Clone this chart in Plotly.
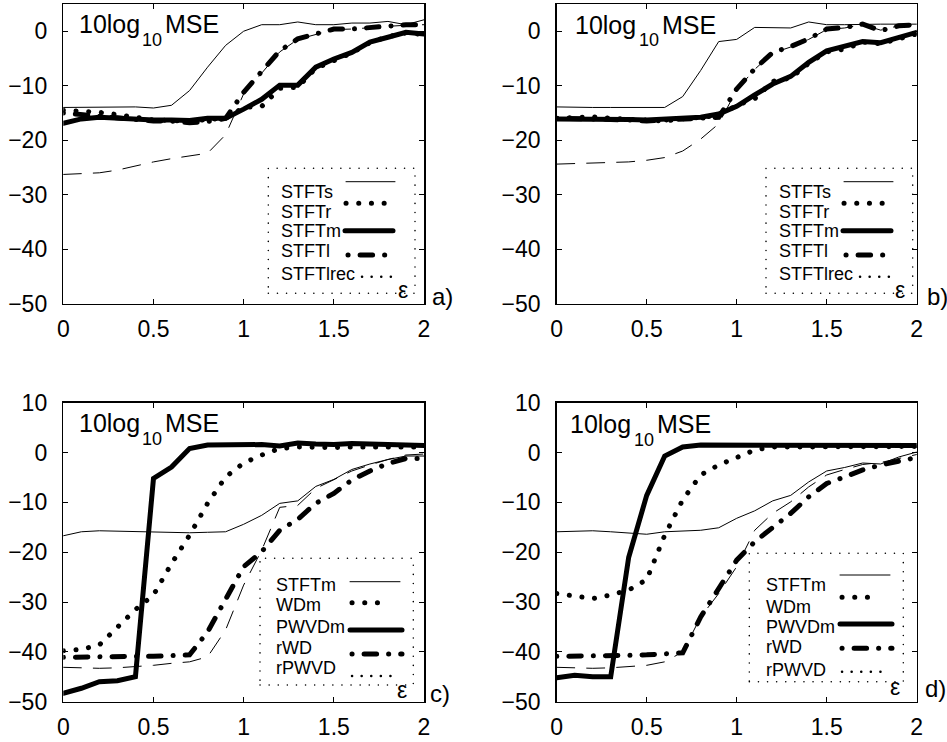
import plotly.graph_objects as go

# ---------------- data ----------------
eps = [0.0, 0.1, 0.2, 0.3, 0.4, 0.5, 0.6, 0.7, 0.8, 0.9, 1.0,
       1.1, 1.2, 1.3, 1.4, 1.5, 1.6, 1.7, 1.8, 1.9, 2.0]

# panel a)
a_STFTs = [-14.0, -14.0, -14.0, -14.0, -13.9, -14.1, -13.6, -10.9, -6.6, -2.6, 0.0,
           1.2, 1.2, 1.7, 1.2, 1.2, 1.5, 1.5, 1.8, 1.2, 2.1]
a_STFTr = [-14.5, -14.6, -14.9, -15.3, -15.7, -16.3, -16.4, -16.6, -16.2, -16.0, -14.0,
           -13.8, -10.5, -10.3, -6.8, -5.3, -4.0, -2.1, -1.0, -0.3, -0.6]
a_STFTm = [-16.9, -16.1, -15.8, -16.0, -16.1, -16.3, -16.3, -16.4, -16.0, -16.0, -14.3,
           -12.5, -9.9, -9.9, -6.6, -5.1, -3.9, -2.0, -1.1, -0.2, -0.5]
a_STFTl = [-15.0, -15.3, -15.8, -16.0, -16.2, -16.5, -16.5, -16.8, -16.6, -16.0, -11.2,
           -7.5, -3.6, -1.4, -0.5, 0.4, 0.4, 0.7, 0.9, 1.2, 1.2]
a_STFTlrec = [-26.3, -26.2, -26.0, -25.5, -24.7, -24.0, -23.4, -22.9, -22.4, -19.0, -11.5,
              -7.7, -3.8, -1.5, -0.6, 0.3, 0.4, 0.7, 0.9, 1.1, 1.2]

# panel b)
b_STFTs = [-13.9, -14.0, -14.0, -14.0, -14.0, -13.9, -14.0, -12.0, -7.2, -1.9, -1.5,
           0.7, 0.7, 0.6, 1.7, 1.2, 1.2, 1.3, 1.3, 1.3, 1.3]
b_STFTr = [-16.0, -15.9, -15.7, -16.0, -16.1, -16.4, -16.5, -16.1, -15.9, -15.5, -13.6,
           -12.4, -9.2, -8.6, -5.9, -3.8, -3.3, -2.0, -2.3, -1.4, -0.5]
b_STFTm = [-16.1, -16.1, -16.0, -16.1, -16.2, -16.3, -16.2, -16.0, -15.8, -15.2, -13.8,
           -11.7, -9.7, -8.3, -5.7, -3.6, -2.8, -1.9, -2.1, -1.1, -0.2]
b_STFTl = [-16.0, -16.0, -16.0, -16.2, -16.3, -16.5, -16.3, -16.2, -16.0, -15.8, -10.6,
           -6.9, -3.9, -2.8, -1.4, 0.4, 0.7, 1.3, 0.1, 1.0, 1.2]
b_STFTlrec = [-24.4, -24.3, -24.2, -24.1, -24.0, -23.7, -23.2, -22.0, -19.8, -17.0, -10.8,
              -7.0, -4.0, -2.9, -1.5, 0.3, 0.6, 1.2, 0.2, 1.0, 1.2]

# panel c)
c_STFTm = [-16.7, -15.9, -15.7, -15.8, -15.9, -15.9, -16.0, -16.1, -16.0, -15.9, -14.4,
           -12.6, -10.2, -9.7, -6.8, -5.4, -3.4, -2.3, -1.4, -0.7, -0.7]
c_WDm = [-39.8, -39.5, -38.6, -35.0, -31.5, -28.6, -22.3, -16.6, -10.2, -4.9, -2.1,
         -0.5, 0.8, 1.1, 1.0, 1.0, 1.1, 1.1, 1.1, 1.0, 1.1]
c_PWVDm = [-48.3, -47.3, -46.0, -45.8, -45.0, -5.2, -2.9, 0.8, 1.5, 1.5, 1.6,
           1.6, 1.3, 1.9, 1.7, 1.6, 1.8, 1.7, 1.5, 1.6, 1.4]
c_rWD = [-41.1, -41.0, -41.0, -41.0, -40.9, -40.9, -40.8, -40.6, -36.0, -29.6, -22.9,
         -19.9, -15.6, -13.4, -10.2, -8.2, -5.5, -3.7, -2.2, -1.2, -1.2]
c_rPWVD = [-43.1, -43.2, -43.3, -43.2, -43.0, -42.7, -42.3, -42.0, -41.0, -35.6, -26.6,
           -19.6, -11.0, -10.6, -7.2, -5.5, -3.7, -2.5, -1.4, -0.5, -0.3]

# panel d)
d_STFTm = [-15.9, -15.8, -15.7, -15.9, -16.2, -16.4, -15.9, -15.8, -15.6, -15.1, -13.2,
           -11.7, -9.7, -8.6, -5.9, -3.7, -3.0, -2.1, -2.3, -0.9, 0.1]
d_WDm = [-28.3, -28.8, -29.3, -28.6, -27.6, -25.5, -16.6, -9.5, -4.5, -2.5, -1.0,
         0.5, 1.1, 1.1, 1.1, 1.1, 1.1, 1.1, 1.1, 1.2, 1.2]
d_PWVDm = [-45.2, -44.7, -45.0, -45.0, -21.0, -8.6, -0.7, 1.1, 1.5, 1.5, 1.5,
           1.4, 1.5, 1.6, 1.6, 1.5, 1.5, 1.6, 1.5, 1.6, 1.4]
d_rWD = [-40.9, -40.9, -40.8, -40.8, -40.7, -40.6, -40.5, -40.2, -33.0, -27.5, -21.6,
         -17.9, -15.2, -12.2, -8.9, -6.2, -4.9, -3.5, -2.5, -1.7, -1.0]
d_rPWVD = [-43.1, -43.2, -43.3, -43.2, -43.0, -42.7, -42.0, -40.0, -33.0, -28.3, -22.9,
           -15.6, -12.2, -9.9, -6.9, -4.5, -3.4, -2.4, -2.0, -1.2, -0.4]

names_top = ["STFTs", "STFTr", "STFTm", "STFTl", "STFTlrec"]
names_bot = ["STFTm", "WDm", "PWVDm", "rWD", "rPWVD"]
x_ticks = [0, 0.5, 1, 1.5, 2]
x_ticktext = ["0", "0.5", "1", "1.5", "2"]
y_ticks = [-50, -40, -30, -20, -10, 0, 10]

# ---------------- styling ----------------
W, H = 947, 742
FONT = "Liberation Sans"
styles = [
    dict(color="black", width=1),                                   # thin solid
    dict(color="black", width=5, dash="0.1px,12.6px"),              # round dots
    dict(color="black", width=5),                                   # thick solid
    dict(color="black", width=5, dash="0.1px,12px,12.5px,12px"),    # thick dash-dot
    dict(color="black", width=1, dash="18px,12px"),                 # thin long dash
]
legend_styles = [
    dict(color="black", width=1),
    dict(color="black", width=5, dash="0.1px,12.6px"),
    dict(color="black", width=5),
    dict(color="black", width=5, dash="0.1px,12px,12.5px,12px"),
    dict(color="black", width=2.5, dash="0.1px,9.5px"),
]

def px(x):
    return x / W

def py(y):
    return 1 - y / H

panels = [
    dict(key="", box=(63.3, 424.0, 4.0, 303.5), yr=[-50, 5], names=names_top,
         series=[a_STFTs, a_STFTr, a_STFTm, a_STFTl, a_STFTlrec], tag="a)",
         lbox=(268.3, 415.0, 168.3, 293.3), tx=279, ty=[191.5, 211.5, 231, 251, 273.5],
         samp=[(346, 395, 181.7), (346, 390, 203.3), (345, 393, 230.7), (348, 388, 255), (362, 398, 276.7)],
         epsxy=(403, 290), tagxy=(430, 296), titxy=(76.7, 24)),
    dict(key="2", box=(556.7, 916.7, 4.0, 303.5), yr=[-50, 5], names=names_top,
         series=[b_STFTs, b_STFTr, b_STFTm, b_STFTl, b_STFTlrec], tag="b)",
         lbox=(766.0, 912.7, 168.3, 293.3), tx=776.7, ty=[191.5, 211.5, 231, 251, 273.5],
         samp=[(844, 893, 181.7), (844, 888, 203.3), (843, 891, 230.7), (846, 886, 255), (860, 896, 276.7)],
         epsxy=(900, 290), tagxy=(925, 296), titxy=(573.3, 25)),
    dict(key="3", box=(63.3, 424.0, 402.7, 701.7), yr=[-50, 10], names=names_bot,
         series=[c_STFTm, c_WDm, c_PWVDm, c_rWD, c_rPWVD], tag="c)",
         lbox=(260.0, 413.3, 558.3, 685.0), tx=274, ty=[585, 605, 627.3, 648.3, 668.3],
         samp=[(350, 400, 581.7), (352, 390, 602.7), (350, 402, 630), (352, 402, 654), (352, 398, 676)],
         epsxy=(401.7, 690), tagxy=(428, 693), titxy=(76.7, 423.3)),
    dict(key="4", box=(556.7, 916.7, 402.7, 701.7), yr=[-50, 10], names=names_bot,
         series=[d_STFTm, d_WDm, d_PWVDm, d_rWD, d_rPWVD], tag="d)",
         lbox=(749.3, 903.3, 553.3, 681.7), tx=764, ty=[585, 606.7, 626.7, 646.7, 670],
         samp=[(840, 890, 575), (842, 880, 597.3), (840, 892, 624), (842, 892, 648.3), (842, 888, 671.7)],
         epsxy=(895, 687), tagxy=(922.7, 688), titxy=(568.3, 424)),
]

fig = go.Figure()
shapes = []
annotations = []
axis_common = dict(
    showline=True, linecolor="black", linewidth=1.5, mirror="ticks",
    ticks="inside", ticklen=5, tickwidth=1, tickcolor="black",
    showgrid=False, zeroline=False, automargin=False,
    tickfont=dict(family=FONT, size=23, color="black"),
)

def txt(x, y, s, size, anchor="left"):
    annotations.append(dict(xref="paper", yref="paper", x=px(x), y=py(y),
                            xanchor=anchor, yanchor="middle", showarrow=False,
                            text=s, font=dict(family=FONT, size=size, color="black")))

for p in panels:
    k = p["key"]
    l, r, t, b = p["box"]
    for name, vals, st in zip(p["names"], p["series"], styles):
        fig.add_trace(go.Scatter(x=eps, y=vals, mode="lines", name=name,
                                 line=st, showlegend=False, hoverinfo="skip",
                                 xaxis="x" + k, yaxis="y" + k))
    fig.update_layout(**{
        "xaxis" + k: dict(domain=[px(l), px(r)], anchor="y" + k, range=[0, 2],
                          tickvals=x_ticks, ticktext=x_ticktext,
                          ticklabelstandoff=4, **axis_common),
        "yaxis" + k: dict(domain=[py(b), py(t)], anchor="x" + k, range=p["yr"],
                          tickvals=[v for v in y_ticks if v <= p["yr"][1]],
                          ticklabelstandoff=10, **axis_common),
    })
    # legend frame
    bl, br, bt, bb = p["lbox"]
    shapes.append(dict(type="rect", xref="paper", yref="paper",
                       x0=px(bl), x1=px(br), y0=py(bb), y1=py(bt),
                       line=dict(color="black", width=1.5, dash="0.1px,9px")))
    for name, yy, (sx0, sx1, sy), lst in zip(p["names"], p["ty"], p["samp"], legend_styles):
        txt(p["tx"], yy, name, 18)
        shapes.append(dict(type="line", xref="paper", yref="paper",
                           x0=px(sx0), x1=px(sx1), y0=py(sy), y1=py(sy), line=lst))
    ex, ey = p["epsxy"]
    txt(ex, ey, "ε", 23, "center")
    tgx, tgy = p["tagxy"]
    txt(tgx, tgy, p["tag"], 24)
    ttx, tty = p["titxy"]
    txt(ttx, tty, "10log", 25)
    txt(ttx + 63.6, tty + 15.5, "10", 18)
    txt(ttx + 86.6, tty, "MSE", 25)

fig.update_layout(
    template="none",
    width=W, height=H, autosize=False,
    margin=dict(l=0, r=0, t=0, b=0, pad=0),
    paper_bgcolor="white", plot_bgcolor="white",
    shapes=shapes, annotations=annotations,
    font=dict(family=FONT, color="black"),
    hovermode=False,
)

page_style = """
var st = document.createElement('style');
st.textContent = 'html, body { margin: 0; padding: 0; overflow: hidden; } ' +
                 '.js-line, .shapelayer path { stroke-linecap: round !important; }';
document.head.appendChild(st);
"""

fig.write_html("out.html", post_script=page_style,
               config={"displayModeBar": False, "staticPlot": True})
